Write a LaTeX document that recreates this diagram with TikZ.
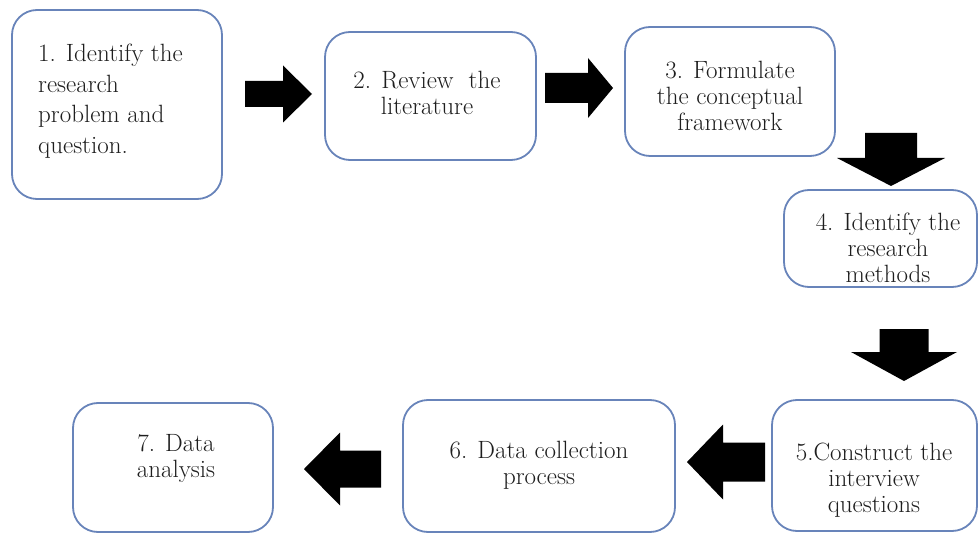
\documentclass[tikz,border=0pt]{standalone}
\usetikzlibrary{positioning}
\definecolor{boxline}{RGB}{104,132,186}
\definecolor{txt}{RGB}{30,30,30}
\tikzset{
  stepbox/.style={draw=boxline, line width=1.8pt, rounded corners=25pt,
    fill=white, inner sep=0pt},
  steptext/.style={text=txt, inner sep=0pt, align=center,
    font=\fontsize{25}{26}\selectfont},
  % block arrow: length / shaft half width / head half width / head length
  pics/fatarrow/.style args={#1/#2/#3/#4}{code={
    \fill[black] (0,-#2) -- (#1-#4,-#2) -- (#1-#4,-#3) -- (#1,0)
      -- (#1-#4,#3) -- (#1-#4,#2) -- (0,#2) -- cycle;}}
}
\newcommand{\stepbox}[5]{% name, left, top, right, bottom
  \node[stepbox, minimum width={#4-#2}, minimum height={#5-#3}]
    (#1) at ({(#2+#4)/2},{(#3+#5)/2}) {};}
\begin{document}
\begin{tikzpicture}[x=1pt,y=-1pt]
  \useasboundingbox[fill=white] (0,0) rectangle (979,534);

  % boxes
  \stepbox{b1}{12}{10}{222}{199}
  \stepbox{b2}{325}{32}{536}{160}
  \stepbox{b3}{625}{27}{835}{156}
  \stepbox{b4}{784}{190}{977}{287}
  \stepbox{b5}{772}{400}{977}{531}
  \stepbox{b6}{403}{400}{675}{532}
  \stepbox{b7}{73}{403}{273}{532}

  % texts
  \node[steptext, align=left, anchor=west,
        font=\fontsize{25}{30.5}\selectfont] (t1) at (38,101)
    {1. Identify the\\research\\problem and\\question.};
  \node[steptext] (t2) at (427,93) {2. Review\ \ the\\literature};
  \node[steptext] (t3) at (730,96) {3. Formulate\\the conceptual\\framework};
  \node[steptext] (t4) at (888,248) {4. Identify the\\research\\methods};
  \node[steptext] (t5) at (874,480) {5.Construct the\\interview\\questions};
  \node[steptext] (t6) at (539,465) {6. Data collection\\process};
  \node[steptext] (t7) at (176,458) {7. Data\\analysis};

  % block arrows between the steps
  \coordinate (a12) at (245,94);
  \coordinate (a23) at (545,88);
  \coordinate (a34) at (891,133);
  \coordinate (a45) at (904,329);
  \coordinate (a56) at (765,462);
  \coordinate (a67) at (381,469);
  \pic at (a12) {fatarrow=67/13/28.5/29};
  \pic at (a23) {fatarrow=68/15/30/25};
  \pic[rotate=-90] at (a34) {fatarrow=53/26/54/28};
  \pic[rotate=-90] at (a45) {fatarrow=52/24.5/53/29};
  \pic[rotate=180] at (a56) {fatarrow=78/19.5/37.5/36};
  \pic[rotate=180] at (a67) {fatarrow=77/18.5/36.5/36};
\end{tikzpicture}
\end{document}
